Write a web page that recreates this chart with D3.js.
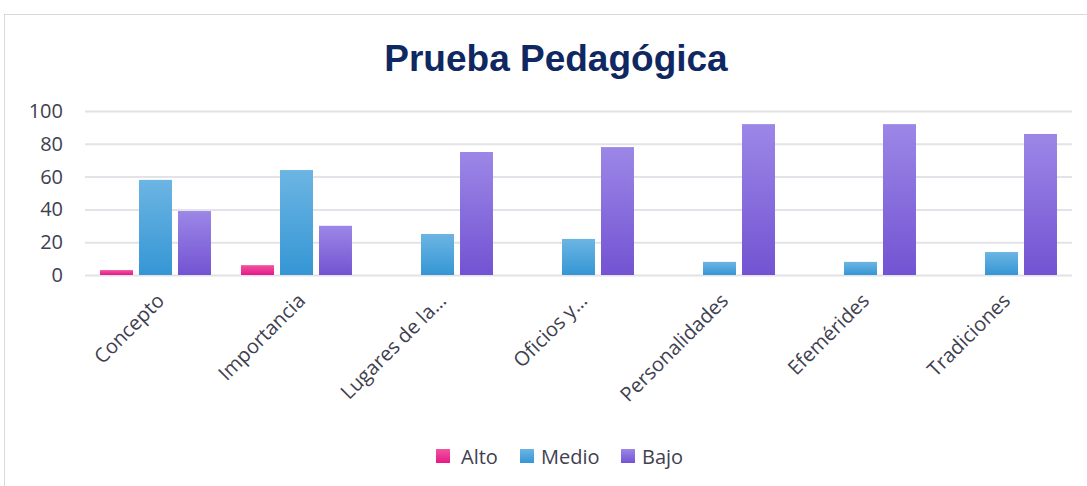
<!DOCTYPE html>
<html>
<head>
<meta charset="utf-8">
<script src="https://cdn.jsdelivr.net/npm/d3@7"></script>
<style>
    body { margin: 0; background: #fff; }
    svg { display: block; }
</style>
</head>
<body>
<svg id="drawing_region"></svg>
<script>
const categories = ["Concepto", "Importancia", "Lugares de la…", "Oficios y…", "Personalidades", "Efemérides", "Tradiciones"];
const seriesNames = ["Alto", "Medio", "Bajo"];
const alto  = [3, 6, 0, 0, 0, 0, 0];
const medio = [58, 64, 25, 22, 8, 8, 14];
const bajo  = [39, 30, 75, 78, 92, 92, 86];
const yTicks = [0, 20, 40, 60, 80, 100];

const seriesValues = { Alto: alto, Medio: medio, Bajo: bajo };
const colors = {
    Alto:  ["#f0559f", "#e6188a"],
    Medio: ["#6cb5e3", "#3596d4"],
    Bajo:  ["#9c87e7", "#7353d2"]
};

const width = 1087, height = 486;
const margin = {top: 111, right: 15, bottom: 211, left: 85};
const innerW = width - margin.left - margin.right;
const innerH = height - margin.top - margin.bottom;
const labelFont = "'Open Sans', 'Noto Sans', sans-serif";

const svg = d3.select('#drawing_region')
    .attr('width', width)
    .attr('height', height);

// gradients
const defs = svg.append('defs');
seriesNames.forEach(s => {
    const g = defs.append('linearGradient')
        .attr('id', 'grad-' + s)
        .attr('x1', 0).attr('y1', 0).attr('x2', 0).attr('y2', 1);
    g.append('stop').attr('offset', '0%').attr('stop-color', colors[s][0]);
    g.append('stop').attr('offset', '100%').attr('stop-color', colors[s][1]);
});

// chart border
svg.append('rect')
    .attr('x', 4.5).attr('y', 14.5)
    .attr('width', width + 10).attr('height', height + 10)
    .attr('fill', 'none')
    .attr('stroke', '#d9d9d9');

svg.append('text')
    .attr('x', 556)
    .attr('y', 71)
    .attr('text-anchor', 'middle')
    .attr('font-family', "'Liberation Sans', Arial, sans-serif")
    .attr('font-weight', 'bold')
    .attr('font-size', '37px')
    .attr('fill', '#0f2862')
    .text('Prueba Pedagógica');

const chart = svg.append('g')
    .attr('transform', `translate(${margin.left}, ${margin.top})`);

const xscale = d3.scaleBand()
    .domain(categories)
    .range([0, innerW])
    .paddingInner(0.213)
    .paddingOuter(0.1065);

const xsub = d3.scaleBand()
    .domain(seriesNames)
    .range([0, xscale.bandwidth()])
    .paddingInner(0.154);

const yscale = d3.scaleLinear()
    .domain([0, 100])
    .range([innerH, 0]);

// grid + y labels
const yaxis = d3.axisLeft(yscale)
    .tickValues(yTicks)
    .tickSize(-innerW)
    .tickPadding(22);

const yg = chart.append('g').call(yaxis);
yg.select('.domain').remove();
yg.selectAll('.tick line')
    .attr('stroke', '#e2e2e8')
    .attr('stroke-width', 2);
yg.selectAll('.tick text')
    .attr('font-family', labelFont)
    .attr('font-size', '20px')
    .attr('fill', '#404050');

// bars
const groups = chart.selectAll('.cat')
    .data(categories)
    .join('g')
    .attr('class', 'cat')
    .attr('transform', d => `translate(${xscale(d)}, 0)`);

groups.selectAll('rect')
    .data((d, i) => seriesNames.map(s => ({ s: s, v: seriesValues[s][i] })))
    .join('rect')
    .attr('x', d => xsub(d.s))
    .attr('y', d => yscale(d.v))
    .attr('width', xsub.bandwidth())
    .attr('height', d => innerH - yscale(d.v))
    .attr('fill', d => `url(#grad-${d.s})`);

// x labels
const xaxis = d3.axisBottom(xscale).tickSize(0).tickPadding(0);
const xg = chart.append('g')
    .attr('transform', `translate(0, ${innerH})`)
    .call(xaxis);
xg.select('.domain').remove();
xg.selectAll('.tick text')
    .attr('font-family', labelFont)
    .attr('font-size', '20px')
    .attr('fill', '#404050')
    .attr('text-anchor', 'end')
    .attr('dy', 0)
    .attr('transform', 'translate(10, 27) rotate(-45)');

// legend
const legendX = [436, 520, 621];
const legend = svg.append('g')
    .attr('transform', 'translate(0, 449)');
seriesNames.forEach((s, i) => {
    legend.append('rect')
        .attr('x', legendX[i]).attr('y', 0)
        .attr('width', 14).attr('height', 14)
        .attr('fill', `url(#grad-${s})`);
    legend.append('text')
        .attr('x', legendX[i] + (i === 0 ? 25 : 21))
        .attr('y', 15)
        .attr('font-family', labelFont)
        .attr('font-size', '20px')
        .attr('fill', '#404050')
        .text(s);
});
</script>
</body>
</html>
